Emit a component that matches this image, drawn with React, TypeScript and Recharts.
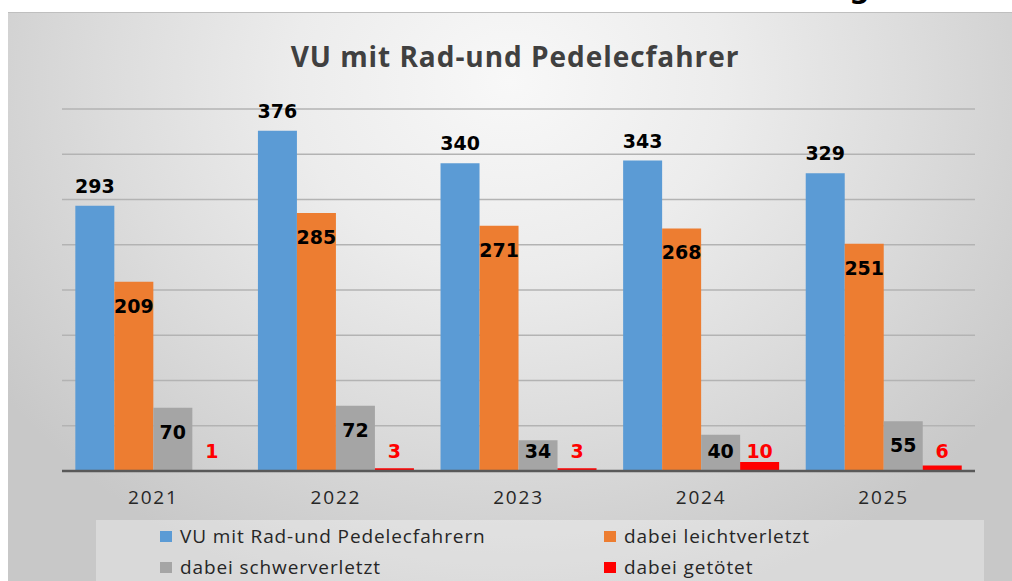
import React from 'react';
import { BarChart, Bar, XAxis, YAxis, CartesianGrid, Legend } from 'recharts';

// Verkehrsunfälle mit Rad- und Pedelecfahrern, 2021–2025
const years = ['2021', '2022', '2023', '2024', '2025'];
const unfaelle = [293, 376, 340, 343, 329];
const leichtverletzt = [209, 285, 271, 268, 251];
const schwerverletzt = [70, 72, 34, 40, 55];
const getoetet = [1, 3, 3, 10, 6];
const yTicks = [0, 50, 100, 150, 200, 250, 300, 350, 400];

const seriesNames = {
  unfaelle: 'VU mit Rad-und Pedelecfahrern',
  leicht: 'dabei leichtverletzt',
  schwer: 'dabei schwerverletzt',
  tot: 'dabei getötet',
};
// legend reading order: row by row, two columns
const legendOrder = [seriesNames.unfaelle, seriesNames.leicht, seriesNames.schwer, seriesNames.tot];

const data = years.map((year, i) => ({
  year,
  unfaelle: unfaelle[i],
  leicht: leichtverletzt[i],
  schwer: schwerverletzt[i],
  tot: getoetet[i],
}));

const W = 1004;
const H = 569;
const LABEL_FONT = '"DejaVu Sans", Verdana, sans-serif';
const TEXT_FONT = '"Open Sans", "Noto Sans", sans-serif';
const LABEL_SIZE = 19;
const CAP = 14; // approx. cap height of the value labels

// value above the bar
const labelAbove = (color: string, gap: number) => (props: any) => {
  const { x, y, width, height, value } = props;
  const base = y + height;
  const capTop = Math.min(y - gap - CAP, base - 27);
  return (
    <text
      x={x + width / 2}
      y={capTop + CAP}
      textAnchor="middle"
      fontFamily={LABEL_FONT}
      fontWeight="bold"
      fontSize={LABEL_SIZE}
      fill={color}
    >
      {value}
    </text>
  );
};

// value inside the bar, near its top
const labelInside = (color: string) => (props: any) => {
  const { x, y, width, height, value } = props;
  const base = y + height;
  const capTop = Math.min(y + 17, base - 27);
  return (
    <text
      x={x + width / 2}
      y={capTop + CAP}
      textAnchor="middle"
      fontFamily={LABEL_FONT}
      fontWeight="bold"
      fontSize={LABEL_SIZE}
      fill={color}
    >
      {value}
    </text>
  );
};

const renderLegend = (props: any) => {
  const items = [...(props.payload || [])].sort(
    (a: any, b: any) => legendOrder.indexOf(a.value) - legendOrder.indexOf(b.value)
  );
  const cols = [64, 508];
  const rows = [16, 47];
  return (
    <div style={{ position: 'relative', width: '100%', height: '100%', background: 'rgba(255,255,255,0.32)' }}>
      {items.map((entry: any, i: number) => {
        const col = i % 2;
        const row = Math.floor(i / 2);
        return (
          <div
            key={entry.value}
            style={{
              position: 'absolute',
              left: cols[col],
              top: rows[row] - 12,
              height: 24,
              display: 'flex',
              alignItems: 'center',
              whiteSpace: 'nowrap',
              fontFamily: TEXT_FONT,
              fontSize: 19,
              letterSpacing: 0.9,
              color: '#262626',
            }}
          >
            <span style={{ display: 'inline-block', width: 12, height: 11, background: entry.color, marginRight: 8 }} />
            <span>{entry.value}</span>
          </div>
        );
      })}
    </div>
  );
};

export default function App() {
  return (
    <div style={{ position: 'fixed', left: 0, top: 0, width: 1012, height: 581, background: '#fff', overflow: 'hidden' }}>
      {/* descender of a cut-off heading above the chart */}
      <svg width={30} height={8} style={{ position: 'absolute', left: 845, top: 0 }}>
        <text x={4} y={-2} fontFamily={LABEL_FONT} fontWeight="bold" fontSize={29} fill="#000">
          g
        </text>
      </svg>
      <div
        style={{
          position: 'absolute',
          left: 8,
          top: 12,
          width: W,
          height: H,
          borderTop: '1px solid #bfbfbf',
          boxSizing: 'border-box',
          background:
            'radial-gradient(ellipse 62% 95% at 50% 12%, #f8f8f8 0%, #ececec 35%, #dcdcdc 65%, #c8c8c8 100%)',
          overflow: 'hidden',
        }}
      >
        <div
          style={{
            position: 'absolute',
            left: 5,
            width: W,
            top: 25,
            textAlign: 'center',
            fontFamily: TEXT_FONT,
            fontWeight: 700,
            fontSize: 28,
            letterSpacing: 0.95,
            color: '#404040',
            lineHeight: '36px',
          }}
        >
          VU mit Rad-und Pedelecfahrer
        </div>
        <BarChart
          width={W}
          height={H}
          data={data}
          margin={{ top: 97, right: 37, bottom: 80, left: 54 }}
          barCategoryGap="7.3%"
          barGap={0}
          style={{ position: 'absolute', left: 0, top: -1 }}
        >
          <CartesianGrid horizontal vertical={false} stroke="#b3b3b3" strokeWidth={1.5} />
          <YAxis hide domain={[0, 400]} ticks={yTicks} interval={0} />
          <XAxis
            dataKey="year"
            height={30}
            tickLine={false}
            tickSize={0}
            tickMargin={20}
            axisLine={{ stroke: '#595959', strokeWidth: 2.5 }}
            tick={{ fontFamily: TEXT_FONT, fontSize: 19, letterSpacing: 1.8, fill: '#262626' }}
          />
          <Legend
            layout="horizontal"
            verticalAlign="middle"
            align="center"
            content={renderLegend}
            wrapperStyle={{ position: 'absolute', left: 88, top: 508, width: 888, height: 61 }}
          />
          <Bar dataKey="unfaelle" name={seriesNames.unfaelle} fill="#5B9BD5" isAnimationActive={false} label={labelAbove('#000', 13)} />
          <Bar dataKey="leicht" name={seriesNames.leicht} fill="#ED7D31" isAnimationActive={false} label={labelInside('#000')} />
          <Bar dataKey="schwer" name={seriesNames.schwer} fill="#A5A5A5" isAnimationActive={false} label={labelInside('#000')} />
          <Bar dataKey="tot" name={seriesNames.tot} fill="#FF0000" isAnimationActive={false} label={labelAbove('#FF0000', 4)} />
        </BarChart>
      </div>
    </div>
  );
}
